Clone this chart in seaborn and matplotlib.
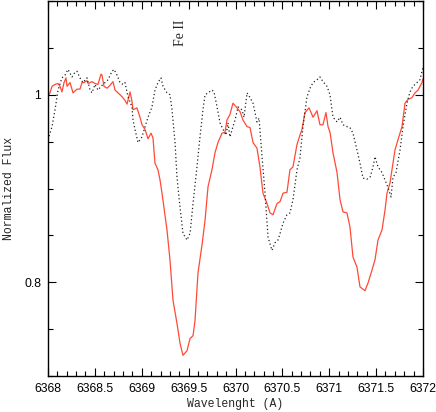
import numpy as np
import pandas as pd
import matplotlib
matplotlib.use("Agg")
import matplotlib.pyplot as plt
import seaborn as sns
from matplotlib.ticker import MultipleLocator, FixedLocator

# Red (solid) spectrum
red_wave = [6368.000, 6368.021, 6368.043, 6368.075, 6368.107, 6368.128, 6368.149, 6368.171, 6368.192, 6368.203,
            6368.235, 6368.267, 6368.309, 6368.341, 6368.363, 6368.384, 6368.416, 6368.427, 6368.469, 6368.501,
            6368.533, 6368.565, 6368.576, 6368.597, 6368.629, 6368.661, 6368.693, 6368.715, 6368.747, 6368.789,
            6368.821, 6368.843, 6368.875, 6368.896, 6368.907, 6368.949, 6368.981, 6369.003, 6369.035, 6369.067,
            6369.099, 6369.120, 6369.141, 6369.173, 6369.195, 6369.216, 6369.269, 6369.301, 6369.333, 6369.376,
            6369.408, 6369.440, 6369.483, 6369.515, 6369.547, 6369.568, 6369.600, 6369.643, 6369.675, 6369.707,
            6369.749, 6369.781, 6369.813, 6369.856, 6369.888, 6369.909, 6369.941, 6369.973, 6370.016, 6370.048,
            6370.080, 6370.123, 6370.155, 6370.187, 6370.229, 6370.261, 6370.293, 6370.336, 6370.368, 6370.400,
            6370.443, 6370.475, 6370.507, 6370.549, 6370.581, 6370.613, 6370.656, 6370.688, 6370.709, 6370.741,
            6370.784, 6370.827, 6370.869, 6370.901, 6370.933, 6370.965, 6370.987, 6371.008, 6371.040, 6371.083,
            6371.115, 6371.147, 6371.189, 6371.221, 6371.253, 6371.296, 6371.328, 6371.381, 6371.413, 6371.456,
            6371.488, 6371.520, 6371.563, 6371.595, 6371.616, 6371.648, 6371.701, 6371.733, 6371.776, 6371.808,
            6371.840, 6371.883, 6371.915, 6371.947, 6371.989, 6372.000]
red_flux = [0.999, 1.002, 1.009, 1.011, 1.012, 1.009, 1.003, 1.013, 1.018, 1.009,
            1.013, 1.002, 1.006, 1.006, 1.013, 1.013, 1.015, 1.012, 1.014, 1.012,
            1.011, 1.022, 1.021, 1.009, 1.007, 1.010, 1.014, 1.005, 1.002, 0.998,
            0.994, 0.990, 1.003, 0.993, 0.984, 0.986, 0.976, 0.968, 0.963, 0.953,
            0.959, 0.954, 0.927, 0.920, 0.909, 0.895, 0.856, 0.824, 0.781, 0.756,
            0.735, 0.722, 0.727, 0.740, 0.743, 0.759, 0.810, 0.840, 0.866, 0.902,
            0.920, 0.938, 0.949, 0.959, 0.960, 0.973, 0.979, 0.991, 0.986, 0.982,
            0.973, 0.966, 0.965, 0.949, 0.943, 0.923, 0.895, 0.884, 0.874, 0.872,
            0.884, 0.886, 0.895, 0.896, 0.920, 0.923, 0.947, 0.957, 0.963, 0.981,
            0.986, 0.976, 0.983, 0.968, 0.968, 0.981, 0.966, 0.960, 0.938, 0.917,
            0.888, 0.875, 0.874, 0.859, 0.827, 0.816, 0.795, 0.791, 0.799, 0.813,
            0.824, 0.845, 0.856, 0.877, 0.895, 0.906, 0.941, 0.952, 0.966, 0.991,
            0.995, 0.997, 1.002, 1.005, 1.013, 1.017]

# Black (dotted) spectrum
dot_wave = [6368.000, 6368.043, 6368.075, 6368.107, 6368.149, 6368.181, 6368.213, 6368.256, 6368.288, 6368.309,
            6368.341, 6368.373, 6368.416, 6368.448, 6368.469, 6368.501, 6368.533, 6368.576, 6368.608, 6368.640,
            6368.683, 6368.704, 6368.736, 6368.768, 6368.800, 6368.821, 6368.853, 6368.896, 6368.907, 6368.928,
            6368.960, 6369.003, 6369.035, 6369.067, 6369.109, 6369.141, 6369.173, 6369.205, 6369.227, 6369.269,
            6369.301, 6369.323, 6369.355, 6369.376, 6369.408, 6369.440, 6369.483, 6369.515, 6369.547, 6369.589,
            6369.621, 6369.653, 6369.675, 6369.707, 6369.749, 6369.771, 6369.803, 6369.835, 6369.867, 6369.899,
            6369.920, 6369.941, 6369.973, 6369.995, 6370.027, 6370.069, 6370.091, 6370.123, 6370.155, 6370.187,
            6370.229, 6370.251, 6370.283, 6370.315, 6370.347, 6370.389, 6370.421, 6370.453, 6370.475, 6370.507,
            6370.549, 6370.581, 6370.613, 6370.656, 6370.688, 6370.720, 6370.763, 6370.795, 6370.827, 6370.869,
            6370.901, 6370.933, 6370.976, 6371.008, 6371.040, 6371.083, 6371.115, 6371.147, 6371.189, 6371.221,
            6371.253, 6371.296, 6371.328, 6371.360, 6371.403, 6371.435, 6371.467, 6371.488, 6371.520, 6371.563,
            6371.595, 6371.627, 6371.659, 6371.680, 6371.712, 6371.755, 6371.787, 6371.829, 6371.861, 6371.893,
            6371.936, 6371.968, 6371.989, 6372.000]
dot_flux = [0.952, 0.966, 0.984, 1.005, 1.018, 1.021, 1.027, 1.019, 1.024, 1.025,
            1.018, 1.013, 1.018, 1.005, 1.002, 1.011, 1.005, 1.010, 1.013, 1.016,
            1.025, 1.027, 1.021, 1.013, 1.011, 1.013, 0.998, 0.987, 0.973, 0.963,
            0.949, 0.955, 0.966, 0.976, 0.987, 1.005, 1.013, 1.018, 1.009, 1.002,
            1.000, 0.984, 0.949, 0.912, 0.880, 0.852, 0.845, 0.852, 0.884, 0.923,
            0.955, 0.984, 1.000, 1.002, 1.005, 1.003, 0.987, 0.970, 0.963, 0.957,
            0.970, 0.955, 0.966, 0.973, 0.987, 0.984, 0.976, 1.002, 0.997, 0.991,
            0.971, 0.975, 0.934, 0.895, 0.848, 0.834, 0.842, 0.845, 0.852, 0.863,
            0.872, 0.874, 0.888, 0.920, 0.933, 0.966, 0.998, 1.007, 1.013, 1.016,
            1.019, 1.014, 1.009, 1.000, 0.976, 0.971, 0.976, 0.968, 0.966, 0.965,
            0.959, 0.941, 0.927, 0.911, 0.910, 0.912, 0.923, 0.934, 0.923, 0.917,
            0.909, 0.901, 0.891, 0.912, 0.917, 0.941, 0.966, 0.991, 1.003, 1.009,
            1.013, 1.016, 1.025, 1.029]

x_major = [6368, 6368.5, 6369, 6369.5, 6370, 6370.5, 6371, 6371.5, 6372]
x_labels = ["6368", "6368.5", "6369", "6369.5", "6370", "6370.5", "6371", "6371.5", "6372"]
y_major = [0.8, 1.0]
y_labels = ["0.8", "1"]

sns.set_theme(style="ticks")
plt.rcParams["font.family"] = ["Liberation Sans", "DejaVu Sans"]

fig = plt.figure(figsize=(4.36, 4.12), dpi=100)
ax = fig.add_axes([48 / 436, 1 - 376 / 412, 375 / 436, 375 / 412])

sns.lineplot(x=red_wave, y=red_flux, ax=ax, color="#ff4a36", linewidth=0.9,
             sort=False, estimator=None)
sns.lineplot(x=dot_wave, y=dot_flux, ax=ax, color="#222222", linewidth=0.9,
             linestyle=(0, (1, 2)), sort=False, estimator=None)

ax.set_xlim(6368, 6372)
ax.set_ylim(0.7, 1.1)

ax.xaxis.set_major_locator(FixedLocator(x_major))
ax.set_xticklabels(x_labels)
ax.xaxis.set_minor_locator(MultipleLocator(0.1))
ax.yaxis.set_major_locator(FixedLocator(y_major))
ax.set_yticklabels(y_labels)
ax.yaxis.set_minor_locator(MultipleLocator(0.05))

ax.tick_params(which="both", direction="in", top=True, right=True, colors="black",
               labelsize=8.8, width=0.8)
ax.tick_params(which="major", length=6, pad=5)
ax.tick_params(which="minor", length=3.5)
for s in ax.spines.values():
    s.set_linewidth(1.0)
    s.set_color("black")

mono = ["Liberation Mono", "DejaVu Sans Mono"]
ax.set_xlabel("Wavelenght (A)", family=mono, fontsize=8.3)
ax.set_ylabel("Normalized Flux", family=mono, fontsize=8.3)
ax.xaxis.set_label_coords(0.5, (376 - 404) / 375)
ax.xaxis.label.set_va("center")
ax.yaxis.set_label_coords((9 - 48) / 375, 0.5)
ax.yaxis.label.set_va("center")
ax.yaxis.label.set_ha("center")

ax.text(6369.408, 1.066, "Fe II", rotation=90, ha="center", va="center",
        family=["Liberation Serif", "DejaVu Serif"], fontsize=10)

fig.savefig("out.png", dpi=100)
